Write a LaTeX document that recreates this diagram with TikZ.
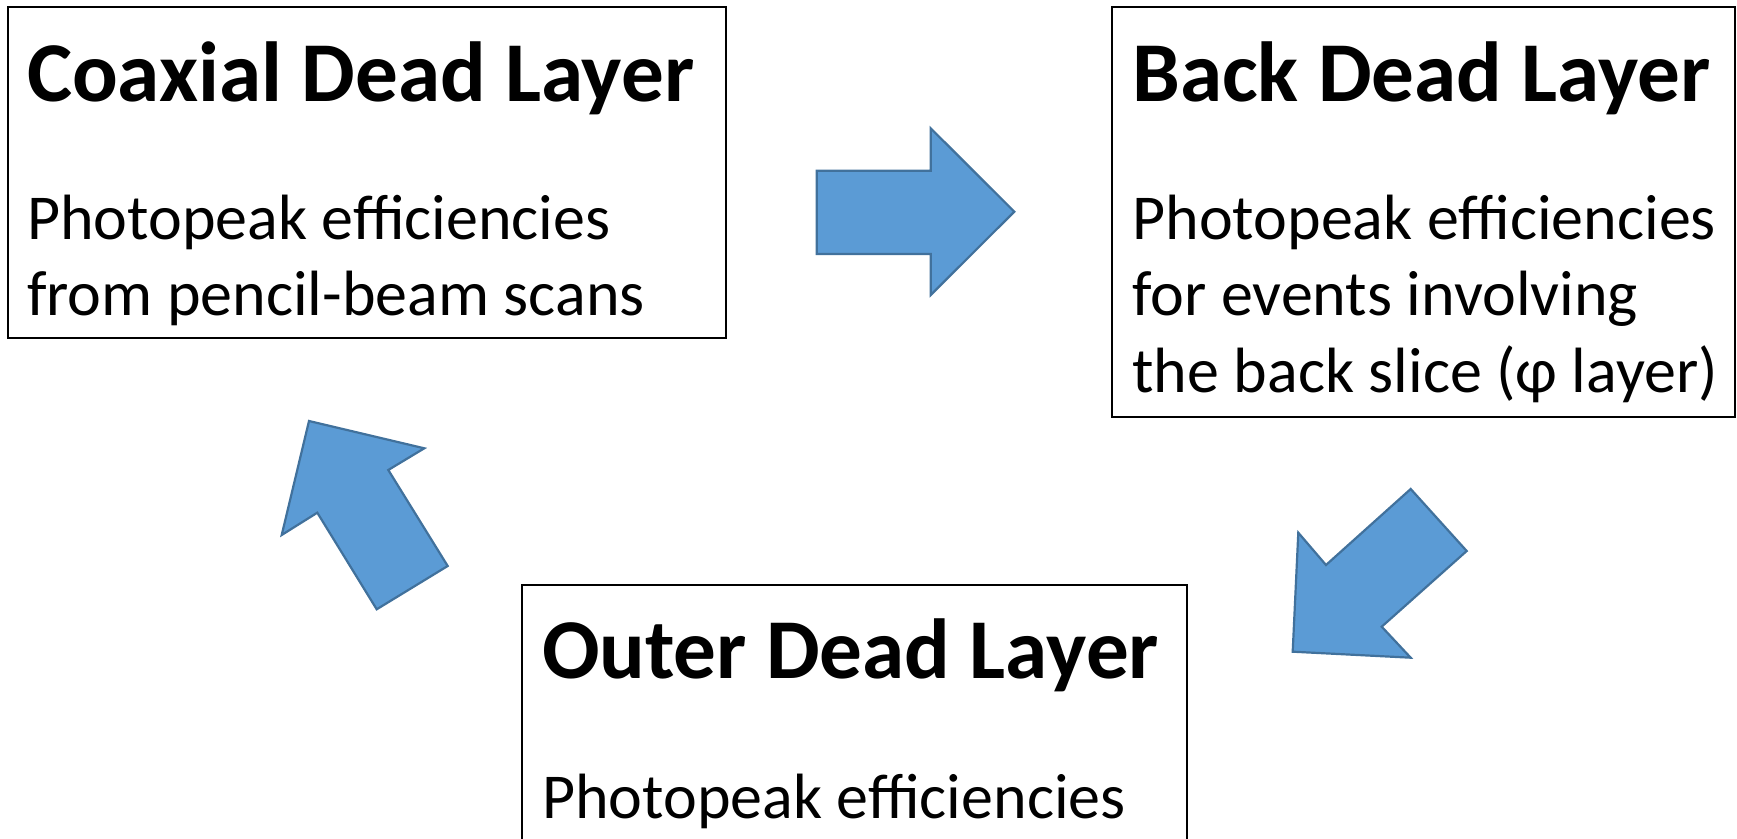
\documentclass[tikz,border=0pt]{standalone}
\usepackage{fontspec}
\setmainfont{Carlito}
\definecolor{arrowfill}{HTML}{5B9BD5}
\definecolor{arrowline}{HTML}{41719C}
\begin{document}
\begin{tikzpicture}[x=0.5pt,y=-0.5pt,
  box/.style={draw=black, line width=1pt, fill=white, anchor=north west, inner sep=0pt, outer sep=0pt},
  ttl/.style={anchor=base west, inner sep=0pt, font=\fontsize{42.6}{50}\selectfont\bfseries},
  bdy/.style={anchor=base west, inner sep=0pt, font=\fontsize{32}{38}\selectfont},
  blk/.style={fill=arrowfill, draw=arrowline, line width=1.1pt, line join=miter}]
\clip (0,0) rectangle (1737,839);
% boxes
\node[box, minimum width=358.9pt, minimum height=165.65pt] (coax) at (7.8,6.6) {};
\node[box, minimum width=311.5pt, minimum height=205pt] (back) at (1112,6.6) {};
\node[box, minimum width=332.35pt, minimum height=157.5pt] (outer) at (521.8,585) {};
% texts
\node[ttl] (coaxT) at (26.6,102) {Coaxial Dead Layer};
\node[bdy] (coax1) at (26.6,239.3) {Photopeak efficiencies};
\node[bdy] (coax2) at (26.6,315.7) {from pencil-beam scans};
\node[ttl] (backT) at (1132,102) {Back Dead Layer};
\node[bdy] (back1) at (1132,239.3) {Photopeak efficiencies};
\node[bdy] (back2) at (1132,315.7) {for events involving};
\node[bdy] (back3) at (1132,392.2) {the back slice (φ layer)};
\node[ttl] (outerT) at (541.7,679) {Outer Dead Layer};
\node[bdy] (outer1) at (541.7,818.7) {Photopeak efficiencies};
% block arrows
\draw[blk] (816.7,170.7) -- (930.7,170.7) -- (930.7,128.3) -- (1014.3,211.7)
  -- (930.7,295) -- (930.7,254) -- (816.7,254) -- cycle;
\draw[blk] (1410.7,489) -- (1466.7,551) -- (1381.7,626.7) -- (1410.7,657.7)
  -- (1292.7,651.7) -- (1298.3,532.7) -- (1326,565) -- cycle;
\draw[blk] (309,421) -- (424.3,448.3) -- (388.3,470) -- (447.7,566)
  -- (376.7,609.3) -- (317.3,512.7) -- (281.7,535) -- cycle;
\end{tikzpicture}
\end{document}
